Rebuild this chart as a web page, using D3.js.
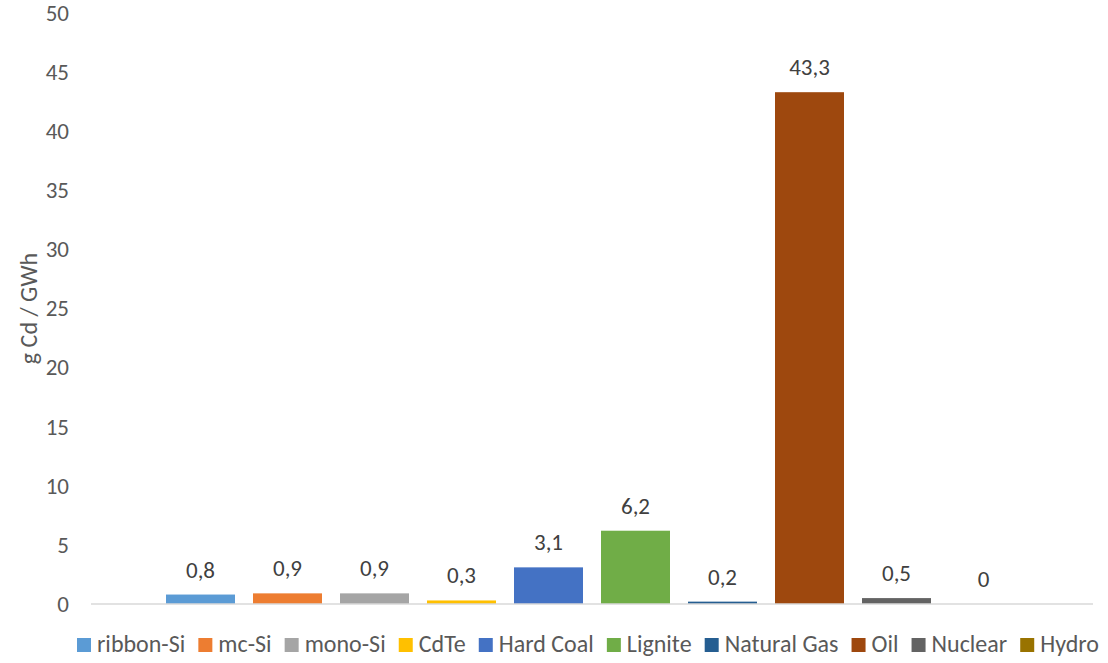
<!DOCTYPE html>
<html>
<head>
<meta charset="utf-8">
<script src="https://cdn.jsdelivr.net/npm/d3@7"></script>
<style>
  html, body { margin: 0; padding: 0; background: #fff; }
  svg { display: block; font-family: Carlito, Lato, "Open Sans", sans-serif; }
</style>
</head>
<body>
<svg id="chart" width="1108" height="663"></svg>
<script>
// Cadmium emissions per GWh by generation technology
const series = ["ribbon-Si", "mc-Si", "mono-Si", "CdTe", "Hard Coal", "Lignite", "Natural Gas", "Oil", "Nuclear", "Hydro"];
const values = [0.8, 0.9, 0.9, 0.3, 3.1, 6.2, 0.2, 43.3, 0.5, 0];
const colors = ["#5B9BD5", "#ED7D31", "#A5A5A5", "#FFC000", "#4472C4", "#70AD47", "#255E91", "#9E480E", "#636363", "#997300"];
const yTicks = [0, 5, 10, 15, 20, 25, 30, 35, 40, 45, 50];
const yTitle = "g Cd / GWh";

const svg = d3.select("#chart");
const textColor = "#595959";
const plot = { left: 91, right: 1093, top: 13, bottom: 604 };

const y = d3.scaleLinear().domain([0, 50]).range([plot.bottom, plot.top]);
const x = d3.scaleBand()
  .domain(series)
  .range([157, 1027])
  .paddingInner(0.207)
  .paddingOuter(0.1035);

const fmt = v => String(v).replace(".", ",");

// Y axis tick labels
const yAxis = d3.axisLeft(y).tickValues(yTicks).tickSize(0).tickPadding(0).tickFormat(d => d);
const gy = svg.append("g").attr("transform", "translate(69,0)").call(yAxis);
gy.select(".domain").remove();
gy.selectAll("text")
  .attr("fill", textColor)
  .style("font-size", "23px")
  .style("font-family", "Carlito, Lato, 'Open Sans', sans-serif");

// Axis title
svg.append("text")
  .attr("transform", `translate(37,${(plot.top + plot.bottom) / 2}) rotate(-90)`)
  .attr("text-anchor", "middle")
  .attr("fill", textColor)
  .style("font-size", "24px")
  .text(yTitle);

// Bars
svg.append("g").selectAll("rect")
  .data(series)
  .join("rect")
  .attr("x", d => x(d))
  .attr("width", x.bandwidth())
  .attr("y", (d, i) => y(values[i]))
  .attr("height", (d, i) => y(0) - y(values[i]))
  .attr("fill", (d, i) => colors[i]);

// Baseline
svg.append("line")
  .attr("x1", plot.left).attr("x2", plot.right)
  .attr("y1", y(0)).attr("y2", y(0))
  .attr("stroke", "#D9D9D9").attr("stroke-width", 1.5);

// Value labels
svg.append("g").selectAll("text")
  .data(series)
  .join("text")
  .attr("x", d => x(d) + x.bandwidth() / 2)
  .attr("y", (d, i) => y(values[i]) - 17)
  .attr("text-anchor", "middle")
  .attr("fill", "#404040")
  .style("font-size", "23px")
  .text((d, i) => fmt(values[i]));

// Legend laid out between the two outer edges
const legend = svg.append("g");
const items = legend.selectAll("g").data(series).join("g");
items.append("rect").attr("width", 14).attr("height", 14).attr("y", -14)
  .attr("fill", (d, i) => colors[i]);
items.append("text").attr("x", 20).attr("y", 0)
  .attr("fill", textColor).style("font-size", "24px").text(d => d);
const widths = [];
items.each(function () { widths.push(20 + this.querySelector("text").getComputedTextLength()); });
const legLeft = 77, legRight = 1099;
const gap = ((legRight - legLeft) - d3.sum(widths)) / (series.length - 1);
let cur = legLeft;
const offsets = widths.map(w => { const o = cur; cur += w + gap; return o; });
items.attr("transform", (d, i) => `translate(${offsets[i]},652)`);
</script>
</body>
</html>
